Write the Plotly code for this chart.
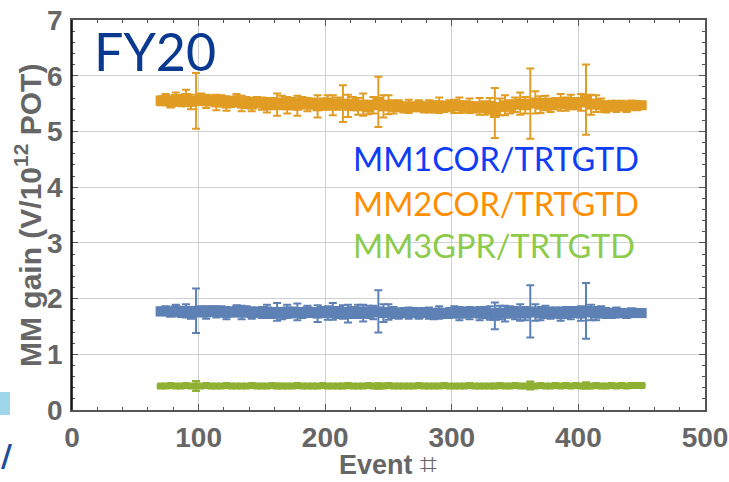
import plotly.graph_objects as go

# ---------------- data ----------------
events = [70, 74, 78, 82, 86, 90, 94, 98, 102, 106, 110, 114, 118, 122, 126, 130,
          134, 138, 142, 146, 150, 154, 158, 162, 166, 170, 174, 178, 182, 186, 190, 194,
          198, 202, 206, 210, 214, 218, 222, 226, 230, 234, 238, 242, 246, 250, 254, 258,
          262, 266, 270, 274, 278, 282, 286, 290, 294, 298, 302, 306, 310, 314, 318, 322,
          326, 330, 334, 338, 342, 346, 350, 354, 358, 362, 366, 370, 374, 378, 382, 386,
          390, 394, 398, 402, 406, 410, 414, 418, 422, 426, 430, 434, 438, 442, 446, 450]

mm2_gain = [5.55, 5.57, 5.52, 5.58, 5.55, 5.60, 5.53, 5.55, 5.58, 5.54, 5.56, 5.52, 5.55, 5.50, 5.53, 5.56,
            5.50, 5.52, 5.48, 5.53, 5.50, 5.47, 5.50, 5.48, 5.52, 5.47, 5.50, 5.46, 5.52, 5.48, 5.50, 5.45,
            5.49, 5.52, 5.47, 5.50, 5.50, 5.46, 5.50, 5.45, 5.48, 5.43, 5.47, 5.53, 5.45, 5.48, 5.44, 5.46,
            5.43, 5.45, 5.44, 5.46, 5.43, 5.45, 5.44, 5.47, 5.44, 5.46, 5.45, 5.47, 5.44, 5.46, 5.43, 5.45,
            5.42, 5.46, 5.33, 5.44, 5.47, 5.44, 5.48, 5.50, 5.47, 5.50, 5.52, 5.48, 5.51, 5.47, 5.50, 5.52,
            5.49, 5.53, 5.50, 5.52, 5.57, 5.48, 5.50, 5.47, 5.44, 5.46, 5.45, 5.47, 5.44, 5.48, 5.46, 5.47]
mm2_err = [0.08, 0.10, 0.09, 0.12, 0.10, 0.15, 0.13, 0.50, 0.10, 0.12, 0.09, 0.14, 0.10, 0.13, 0.09, 0.11,
           0.14, 0.10, 0.12, 0.09, 0.11, 0.13, 0.10, 0.20, 0.12, 0.15, 0.10, 0.18, 0.10, 0.12, 0.09, 0.20,
           0.10, 0.13, 0.18, 0.11, 0.33, 0.20, 0.12, 0.15, 0.20, 0.12, 0.15, 0.45, 0.20, 0.17, 0.12, 0.10,
           0.09, 0.12, 0.08, 0.10, 0.09, 0.11, 0.10, 0.14, 0.09, 0.10, 0.12, 0.14, 0.10, 0.13, 0.09, 0.15,
           0.12, 0.14, 0.45, 0.15, 0.18, 0.12, 0.13, 0.20, 0.15, 0.63, 0.20, 0.15, 0.13, 0.12, 0.10, 0.15,
           0.12, 0.13, 0.10, 0.15, 0.63, 0.18, 0.15, 0.12, 0.10, 0.09, 0.10, 0.08, 0.09, 0.07, 0.08, 0.06]

mm1_gain = [1.77, 1.78, 1.75, 1.79, 1.76, 1.78, 1.74, 1.78, 1.77, 1.75, 1.78, 1.76, 1.77, 1.74, 1.76, 1.78,
            1.75, 1.77, 1.74, 1.76, 1.75, 1.77, 1.74, 1.76, 1.73, 1.77, 1.75, 1.76, 1.74, 1.77, 1.75, 1.73,
            1.76, 1.74, 1.77, 1.75, 1.76, 1.73, 1.75, 1.77, 1.74, 1.76, 1.75, 1.77, 1.74, 1.76, 1.75, 1.73,
            1.75, 1.74, 1.76, 1.73, 1.75, 1.74, 1.72, 1.75, 1.73, 1.74, 1.76, 1.73, 1.75, 1.74, 1.76, 1.73,
            1.75, 1.74, 1.69, 1.75, 1.73, 1.76, 1.74, 1.75, 1.73, 1.77, 1.75, 1.73, 1.76, 1.74, 1.75, 1.72,
            1.75, 1.74, 1.76, 1.73, 1.78, 1.75, 1.73, 1.76, 1.74, 1.73, 1.75, 1.74, 1.73, 1.75, 1.74, 1.74]
mm1_err = [0.07, 0.08, 0.07, 0.10, 0.09, 0.12, 0.10, 0.40, 0.09, 0.11, 0.08, 0.10, 0.09, 0.11, 0.08, 0.10,
           0.12, 0.09, 0.10, 0.08, 0.10, 0.12, 0.09, 0.16, 0.10, 0.12, 0.09, 0.15, 0.09, 0.10, 0.08, 0.15,
           0.09, 0.12, 0.15, 0.10, 0.12, 0.16, 0.10, 0.12, 0.15, 0.11, 0.12, 0.38, 0.16, 0.14, 0.10, 0.09,
           0.08, 0.10, 0.07, 0.09, 0.08, 0.10, 0.09, 0.11, 0.08, 0.09, 0.10, 0.12, 0.09, 0.11, 0.08, 0.12,
           0.10, 0.12, 0.24, 0.12, 0.14, 0.10, 0.11, 0.15, 0.12, 0.47, 0.15, 0.12, 0.11, 0.10, 0.09, 0.12,
           0.10, 0.11, 0.09, 0.13, 0.50, 0.14, 0.12, 0.10, 0.09, 0.08, 0.09, 0.07, 0.08, 0.07, 0.07, 0.06]

mm3_gain = [0.43, 0.43, 0.44, 0.43, 0.43, 0.44, 0.43, 0.43, 0.43, 0.44, 0.43, 0.43, 0.43, 0.44, 0.43, 0.43,
            0.43, 0.43, 0.44, 0.43, 0.43, 0.43, 0.44, 0.43, 0.43, 0.43, 0.43, 0.44, 0.43, 0.43, 0.43, 0.43,
            0.44, 0.43, 0.43, 0.43, 0.43, 0.44, 0.43, 0.43, 0.43, 0.44, 0.43, 0.43, 0.43, 0.44, 0.43, 0.43,
            0.43, 0.43, 0.43, 0.44, 0.43, 0.43, 0.43, 0.43, 0.44, 0.43, 0.43, 0.43, 0.43, 0.44, 0.43, 0.43,
            0.43, 0.43, 0.43, 0.44, 0.43, 0.43, 0.44, 0.43, 0.43, 0.44, 0.43, 0.44, 0.43, 0.43, 0.44, 0.43,
            0.44, 0.43, 0.44, 0.43, 0.44, 0.43, 0.44, 0.43, 0.43, 0.44, 0.43, 0.44, 0.43, 0.44, 0.44, 0.44]
mm3_err = [0.02, 0.02, 0.02, 0.03, 0.02, 0.03, 0.02, 0.09, 0.02, 0.03, 0.02, 0.03, 0.02, 0.03, 0.02, 0.02,
           0.03, 0.02, 0.03, 0.02, 0.02, 0.03, 0.02, 0.04, 0.02, 0.03, 0.02, 0.03, 0.02, 0.03, 0.02, 0.03,
           0.02, 0.03, 0.03, 0.02, 0.04, 0.03, 0.02, 0.03, 0.03, 0.02, 0.03, 0.05, 0.03, 0.04, 0.02, 0.02,
           0.02, 0.02, 0.02, 0.02, 0.02, 0.02, 0.02, 0.03, 0.02, 0.02, 0.02, 0.03, 0.02, 0.03, 0.02, 0.03,
           0.02, 0.03, 0.04, 0.02, 0.03, 0.02, 0.02, 0.03, 0.02, 0.07, 0.03, 0.02, 0.02, 0.02, 0.02, 0.03,
           0.02, 0.02, 0.02, 0.03, 0.06, 0.03, 0.02, 0.02, 0.02, 0.02, 0.02, 0.02, 0.02, 0.02, 0.02, 0.02]

series_names = ["MM1COR/TRTGTD", "MM2COR/TRTGTD", "MM3GPR/TRTGTD"]
x_ticks = [0, 100, 200, 300, 400, 500]
y_ticks = [0, 1, 2, 3, 4, 5, 6, 7]

# ---------------- figure ----------------
C_BLUE, C_ORANGE, C_GREEN = "#5E81B5", "#E19C24", "#8FB032"

fig = go.Figure()
for name, ys, es, col, msize in [
    (series_names[1], mm2_gain, mm2_err, C_ORANGE, 10),
    (series_names[0], mm1_gain, mm1_err, C_BLUE, 10),
    (series_names[2], mm3_gain, mm3_err, C_GREEN, 7),
]:
    fig.add_trace(go.Scatter(
        x=events, y=ys, mode="markers", name=name,
        marker=dict(color=col, size=msize, symbol="square", line=dict(width=0)),
        error_y=dict(type="data", array=es, visible=True, color=col, thickness=2, width=4),
        showlegend=False,
    ))

tickfont = dict(family="Liberation Sans, Arial", size=28, color="#666666")
axis_common = dict(
    showline=True, linewidth=1.5, linecolor="#555555", mirror="ticks",
    ticks="inside", ticklen=6, tickwidth=1, tickcolor="#555555",
    showgrid=True, gridcolor="#d0d0d0", gridwidth=1, zeroline=False,
    tickfont=tickfont, automargin=False,
)
fig.update_xaxes(range=[0, 500], tickvals=x_ticks, ticktext=[f"<b>{v}</b>" for v in x_ticks],
                 minor=dict(ticks="inside", dtick=20, ticklen=3, tickcolor="#555555", showgrid=False),
                 ticklabelstandoff=2, **axis_common)
fig.update_yaxes(range=[0, 7], tickvals=y_ticks, ticktext=[f"<b>{v}</b>" for v in y_ticks],
                 minor=dict(ticks="inside", dtick=0.2, ticklen=3, tickcolor="#555555", showgrid=False),
                 ticklabelstandoff=2, **axis_common)

PW, PH = 633.0, 390.0  # plot area px
def px(xp):
    return (xp - 72) / PW
def py(yp):
    return (410 - yp) / PH

annotations = [
    dict(text="FY20", x=px(92), y=py(51), xanchor="left", yanchor="middle",
         font=dict(family="Lato", size=52, color="#0a3990")),
    dict(text=series_names[0], x=px(351), y=py(158), xanchor="left", yanchor="middle",
         font=dict(family="Lato", size=32.5, color="#0f3cf5")),
    dict(text=series_names[1], x=px(351), y=py(203), xanchor="left", yanchor="middle",
         font=dict(family="Lato", size=32.5, color="#FF8F00")),
    dict(text=series_names[2], x=px(351), y=py(246), xanchor="left", yanchor="middle",
         font=dict(family="Lato", size=32.5, color="#8CCB4B")),
    dict(text="<b>Event</b> <span style='font-size:30px'>⌗</span>", x=px(388), y=py(463),
         xanchor="center", yanchor="middle",
         font=dict(family="Liberation Sans, Arial", size=27, color="#666666")),
    dict(text="<b>MM gain (V/10<sup>12</sup> POT)</b>", x=px(28), y=py(216), textangle=-90,
         xanchor="center", yanchor="middle",
         font=dict(family="Liberation Sans, Arial", size=30, color="#666666")),
    dict(text="<b>/</b>", x=px(6), y=py(455), xanchor="center", yanchor="middle",
         font=dict(family="DejaVu Sans", size=30, color="#1f4e9a")),
]
for a in annotations:
    a.update(xref="paper", yref="paper", showarrow=False)

shapes = [
    dict(type="line", xref="paper", yref="paper", x0=0, x1=0, y0=0, y1=1,
         line=dict(color="#000000", width=1.5)),
    dict(type="rect", xref="paper", yref="paper", x0=px(0), x1=px(10), y0=py(415), y1=py(392),
         line=dict(width=0), fillcolor="#9fd6ea"),
]

fig.update_layout(
    width=729, height=482,
    margin=dict(l=72, r=24, t=20, b=72, autoexpand=False),
    paper_bgcolor="white", plot_bgcolor="white",
    annotations=annotations, shapes=shapes,
)

fig.write_html("out.html")
